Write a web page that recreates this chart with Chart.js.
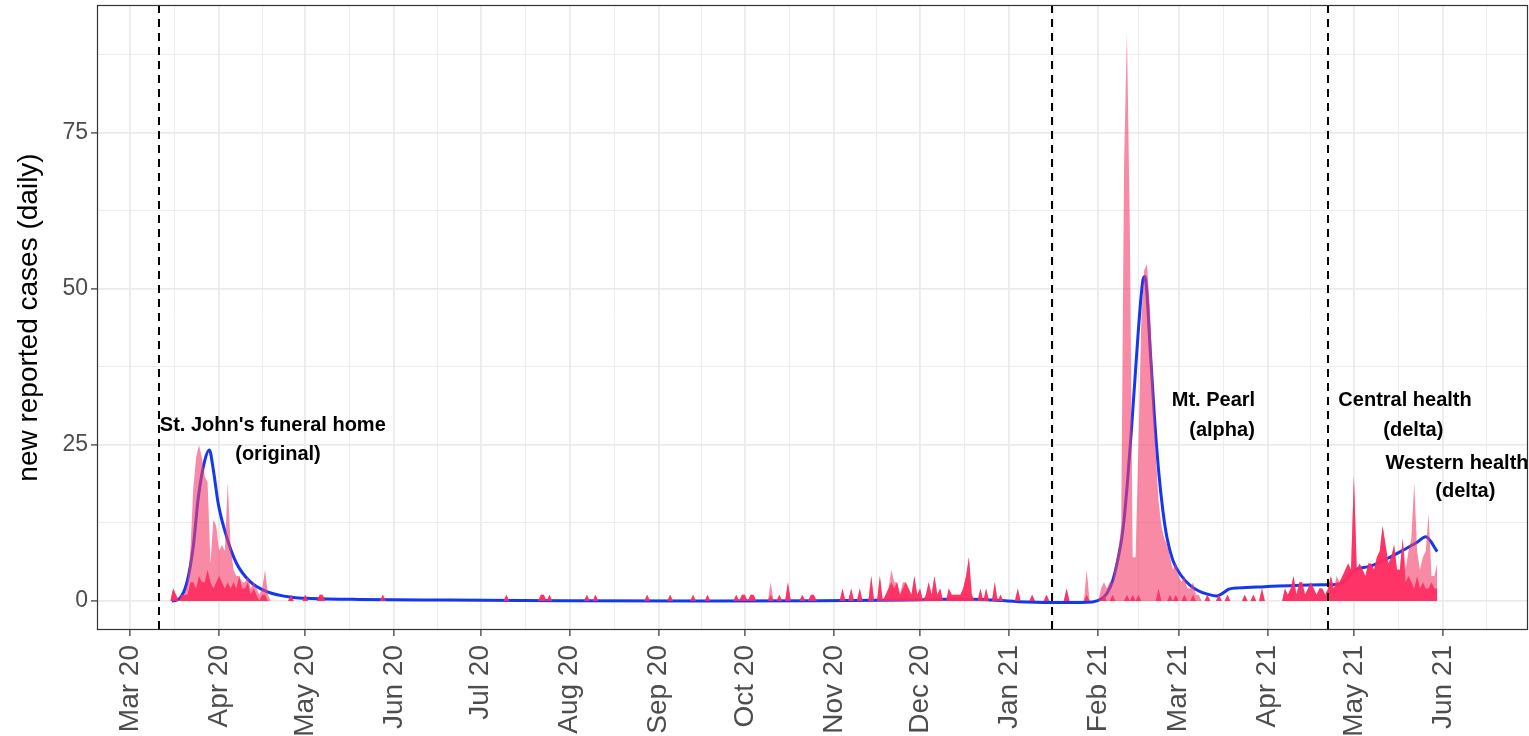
<!DOCTYPE html>
<html>
<head>
<meta charset="utf-8">
<script src="https://cdn.jsdelivr.net/npm/chart.js@4.4.1/dist/chart.umd.min.js"></script>
<style>
  html, body { margin: 0; padding: 0; background: #fff; }
  #wrap { width: 1529px; height: 736px; }
</style>
</head>
<body>
<div id="wrap"><canvas id="casesChart"></canvas></div>
<script>
// Day numbers count from 1 March 2020 (day 0).
const monthStarts = [0, 31, 61, 92, 122, 153, 184, 214, 245, 275, 306, 337, 365, 396, 426, 457];
const monthLabels = ['Mar 20', 'Apr 20', 'May 20', 'Jun 20', 'Jul 20', 'Aug 20', 'Sep 20', 'Oct 20',
                     'Nov 20', 'Dec 20', 'Jan 21', 'Feb 21', 'Mar 21', 'Apr 21', 'May 21', 'Jun 21'];
const julyStart = 487;
const yMajor = [0, 25, 50, 75];
const yMinor = [12.5, 37.5, 62.5, 87.5];

const firstDay = 14;
const lastDay = 455;

// reported cases per day, [day, count]; days not listed had none
const totalCases = [
  [15,2],[16,1],[18,1],[19,1],[20,3],[21,8],[22,18],[23,23],[24,25],[25,23],[26,20],[27,19],[28,6],
  [29,13],[30,12],[31,8],[32,9],[33,8],[34,19],[35,9],[36,5],[37,4],[38,4],[39,3],[40,3],[41,4],
  [42,2],[43,3],[44,2],[45,1],[46,2],[47,5],[48,1],
  [56,1],[61,1],[66,1],[67,1],[88,1],[131,1],[143,1],[144,1],[146,1],[159,1],[162,1],[180,1],
  [188,1],[196,1],[201,1],[211,1],[213,1],[214,1],[216,1],[217,1],[223,3],[226,1],[229,3],[234,1],
  [237,1],[238,1],
  [248,2],[251,2],[254,2],[258,4],[261,4],[263,1],[264,2],[265,5],[266,3],[267,3],[268,1],[269,3],
  [270,3],[271,2],[272,1],[273,4],[274,1],[275,2],[277,1],[278,3],[279,1],[280,4],[281,1],[282,2],
  [285,2],[286,1],[287,1],[288,1],[289,1],[290,2],[291,4],[292,7],[293,1],[296,2],[298,2],[301,3],
  [303,1],[309,2],[314,1],[319,1],[326,2],[333,5],
  [338,2],[339,3],[340,2],[341,3],[342,3],[343,6],[344,8],[345,12],[346,70],[347,91],[348,60],
  [349,7],[350,7],[351,25],[352,45],[353,53],[354,54],[355,47],[356,36],[357,24],[358,16],[359,12],
  [360,10],[361,9],[362,7],[363,5],[364,6],[365,4],[366,3],[367,4],[368,2],[369,2],[370,3],[371,1],
  [372,1],[375,1],[379,1],[382,1],
  [388,1],[391,1],[394,2],[402,2],[403,1],[404,2],[405,4],[406,1],[407,3],[408,3],[409,1],[410,2],
  [411,3],[412,2],[413,1],[414,2],[415,2],[416,1],[417,2],[418,4],[419,2],[420,4],[421,3],[422,4],
  [423,5],[424,6],[425,5],[426,20],[427,5],[428,6],[429,5],[430,4],[431,6],[432,6],[433,5],[434,7],
  [435,8],[436,12],[437,9],[438,6],[439,7],[440,9],[441,5],[442,5],[443,10],[444,5],[445,8],
  [446,10],[447,19],[448,8],[449,5],[450,7],[451,8],[452,14],[453,4],[454,4],[455,6]
];

// travel-related share of the same days
const travelCases = [
  [15,2],[16,1],[18,1],[19,1],[20,1],[21,3],[22,3],[23,2],[24,4],[25,3],[26,3],[27,5],[28,3],
  [29,2],[30,3],[31,4],[32,3],[33,2],[34,3],[35,2],[36,3],[37,2],[38,4],[39,2],[40,2],[41,3],
  [42,1],[43,2],[44,1],[46,1],[47,1],
  [56,1],[61,1],[66,1],[67,1],[88,1],[131,1],[143,1],[144,1],[146,1],[159,1],[162,1],[180,1],
  [188,1],[196,1],[201,1],[211,1],[213,1],[214,1],[216,1],[217,1],[223,1],[226,1],[229,3],[234,1],
  [237,1],[238,1],
  [248,2],[251,2],[254,2],[258,4],[261,4],[263,1],[264,2],[265,3],[266,2],[267,3],[268,1],[269,2],
  [270,3],[271,2],[272,1],[273,4],[274,1],[275,2],[277,1],[278,3],[279,1],[280,4],[281,1],[282,2],
  [285,2],[286,1],[287,1],[288,1],[289,1],[290,2],[291,4],[292,7],[293,1],[296,2],[298,2],[301,3],
  [303,1],[309,2],[314,1],[319,1],[326,2],[333,1],
  [339,1],[342,1],[347,1],[349,1],[351,1],[358,2],[362,1],[364,1],[367,1],[370,1],[375,1],[379,1],
  [382,1],
  [388,1],[391,1],[394,2],[402,2],[403,1],[404,2],[405,4],[406,1],[407,3],[408,3],[409,1],[410,2],
  [411,3],[412,2],[413,1],[414,2],[415,2],[416,1],[417,2],[418,4],[419,2],[420,3],[421,3],[422,4],
  [423,5],[424,6],[425,5],[426,20],[427,5],[428,6],[429,5],[430,4],[431,6],[432,6],[433,5],[434,7],
  [435,8],[436,12],[437,9],[438,6],[439,7],[440,9],[441,5],[442,5],[443,10],[444,3],[445,4],
  [446,3],[447,2],[448,4],[449,2],[450,3],[451,2],[452,2],[453,3],[454,2],[455,2]
];

// smoothed trend, [day, cases]
const trendCases = [
  [14.6,0],[17,0.3],[19.7,2.8],[22,8.7],[23.8,16.7],[26,22.5],[27.6,24.2],[29,21],[30.7,15.6],
  [33.6,10.3],[37.1,6],[41.8,3.1],[47.6,1.5],[56.8,0.55],[63,0.4],[80,0.25],[110,0.15],[150,0.05],
  [200,0],[240,0.05],[270,0.15],[290,0.3],[300,0.15],[312,-0.15],[325,-0.25],[335,-0.15],[338,0.3],
  [340,1.2],[342,3.2],[344,7],[345.5,11],[347,18],[348.5,27],[350,37],[351.5,46.5],[352.6,51.5],
  [353.3,52],[354,49],[355,41],[356.5,30],[358,21],[359.5,14.5],[361,10],[363,6.5],[366,4],
  [369,2.5],[372,1.6],[375,1.1],[378.3,0.8],[380.5,1.3],[382.5,1.9],[386,2.1],[395,2.3],[405,2.5],
  [415,2.6],[421,2.7],[423.5,3.6],[426.5,5],[431,5.5],[434,6],[438.5,7],[443,8.1],[448,9.4],
  [451,10.3],[455,7.9]
];

// outbreak start dates: 11 Mar 2020, 16 Jan 2021, 22 Apr 2021
const outbreakDays = [10, 321, 417];

const outbreakNotes = [
  { text: "St. John's funeral home", day: 49.7, value: 28.2 },
  { text: '(original)', day: 51.5, value: 23.4 },
  { text: 'Mt. Pearl', day: 377.1, value: 32.1 },
  { text: '(alpha)', day: 380.1, value: 27.4 },
  { text: 'Central health', day: 443.8, value: 32.2 },
  { text: '(delta)', day: 446.7, value: 27.4 },
  { text: 'Western health', day: 461.9, value: 22.1 },
  { text: '(delta)', day: 464.8, value: 17.5 }
];

function toDaily(pairs) {
  const byDay = new Map(pairs);
  const out = [];
  for (let d = firstDay; d <= lastDay; d++) {
    out.push({ x: d, y: byDay.get(d) || 0 });
  }
  return out;
}

const bounds = [...monthStarts, julyStart];
const xMinor = [];
for (let i = 0; i < bounds.length - 1; i++) xMinor.push((bounds[i] + bounds[i + 1]) / 2);
const xTicks = [...monthStarts, ...xMinor].sort((a, b) => a - b);
const yTicks = [...yMajor, ...yMinor].sort((a, b) => a - b);

const isMajorX = v => monthStarts.includes(v);
const isMajorY = v => yMajor.includes(v);

const panelDecor = {
  id: 'panelDecor',
  afterDatasetsDraw(chart) {
    const { ctx, chartArea: a, scales: { x, y } } = chart;
    ctx.save();
    ctx.beginPath();
    ctx.rect(a.left, a.top, a.right - a.left, a.bottom - a.top);
    ctx.clip();

    ctx.strokeStyle = '#000';
    ctx.lineWidth = 2;
    ctx.setLineDash([8, 6]);
    outbreakDays.forEach(d => {
      const px = Math.round(x.getPixelForValue(d));
      ctx.beginPath();
      ctx.moveTo(px, a.top);
      ctx.lineTo(px, a.bottom);
      ctx.stroke();
    });
    ctx.setLineDash([]);

    ctx.fillStyle = '#000';
    ctx.font = 'bold 20px "Liberation Sans", Arial, sans-serif';
    ctx.textAlign = 'center';
    ctx.textBaseline = 'middle';
    outbreakNotes.forEach(n => {
      ctx.fillText(n.text, x.getPixelForValue(n.day), y.getPixelForValue(n.value));
    });
    ctx.restore();

    ctx.save();
    ctx.strokeStyle = '#333333';
    ctx.lineWidth = 1.2;
    ctx.strokeRect(a.left + 0.5, a.top + 0.5, a.right - a.left - 1, a.bottom - a.top - 1);
    ctx.restore();
  }
};

Chart.defaults.font.family = '"Liberation Sans", Arial, sans-serif';

new Chart(document.getElementById('casesChart'), {
  type: 'line',
  data: {
    datasets: [
      {
        label: 'travel',
        data: toDaily(travelCases),
        order: 1,
        fill: 'origin',
        backgroundColor: 'rgba(255, 40, 95, 0.88)',
        borderColor: 'rgba(0,0,0,0)',
        borderWidth: 0,
        pointRadius: 0,
        tension: 0
      },
      {
        label: 'total',
        data: toDaily(totalCases),
        order: 2,
        fill: 'origin',
        backgroundColor: 'rgba(245, 60, 105, 0.6)',
        borderColor: 'rgba(0,0,0,0)',
        borderWidth: 0,
        pointRadius: 0,
        tension: 0
      },
      {
        label: 'trend',
        data: trendCases.map(([d, v]) => ({ x: d, y: v })),
        order: 3,
        fill: false,
        borderColor: '#1438F0',
        borderWidth: 3,
        pointRadius: 0,
        cubicInterpolationMode: 'monotone'
      }
    ]
  },
  options: {
    responsive: true,
    maintainAspectRatio: false,
    animation: false,
    layout: { padding: { top: 5, right: 1, left: 0, bottom: 0 } },
    plugins: {
      legend: { display: false },
      tooltip: { enabled: false }
    },
    scales: {
      x: {
        type: 'linear',
        min: -11.5,
        max: 486.6,
        afterBuildTicks: s => { s.ticks = xTicks.map(v => ({ value: v })); },
        afterFit: s => { s.height = 106; s.paddingLeft = 0; s.paddingRight = 0; },
        ticks: {
          autoSkip: false,
          minRotation: 90,
          maxRotation: 90,
          padding: 9,
          color: '#4D4D4D',
          font: { size: 28 },
          callback: v => isMajorX(v) ? monthLabels[monthStarts.indexOf(v)] : ''
        },
        grid: {
          color: '#EBEBEB',
          lineWidth: c => (c.tick && isMajorX(c.tick.value)) ? 1.8 : 0.9,
          tickLength: 6,
          tickWidth: 1.2,
          tickColor: c => (c.tick && isMajorX(c.tick.value)) ? '#333333' : 'rgba(0,0,0,0)'
        },
        border: { display: false }
      },
      y: {
        min: -4.65,
        max: 95.5,
        afterBuildTicks: s => { s.ticks = yTicks.map(v => ({ value: v })); },
        afterFit: s => { s.width = 97; s.paddingTop = 0; s.paddingBottom = 0; },
        ticks: {
          padding: 3,
          color: '#4D4D4D',
          font: { size: 23 },
          callback: v => isMajorY(v) ? String(v) : ''
        },
        grid: {
          color: '#EBEBEB',
          lineWidth: c => (c.tick && isMajorY(c.tick.value)) ? 1.8 : 0.9,
          tickLength: 6,
          tickWidth: 1.2,
          tickColor: c => (c.tick && isMajorY(c.tick.value)) ? '#333333' : 'rgba(0,0,0,0)'
        },
        border: { display: false },
        title: {
          display: true,
          text: 'new reported cases (daily)',
          color: '#000',
          font: { size: 28 },
          padding: { top: 12, bottom: 0 }
        }
      }
    }
  },
  plugins: [panelDecor]
});
</script>
</body>
</html>
